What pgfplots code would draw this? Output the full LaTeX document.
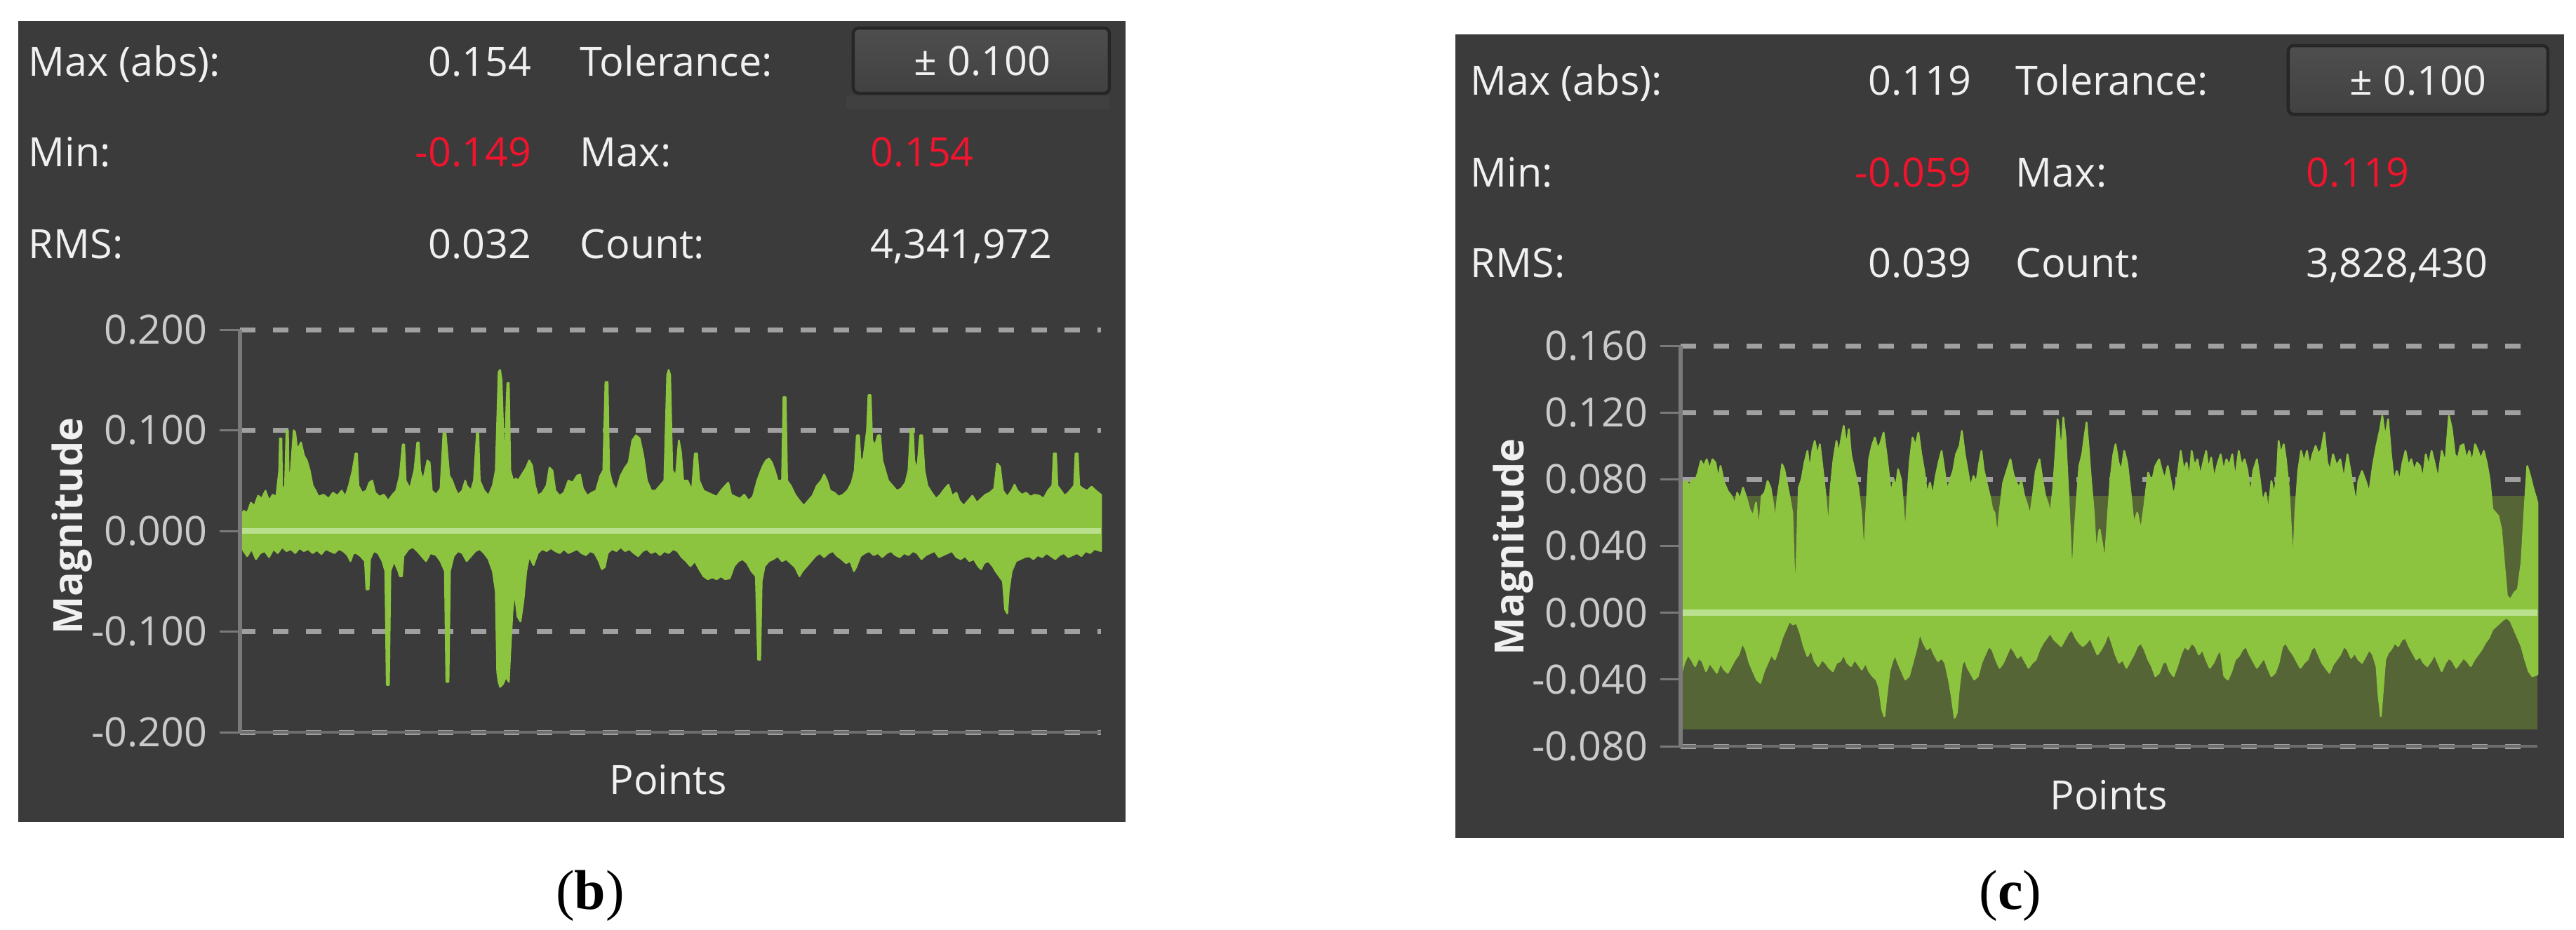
\documentclass[border=0pt]{standalone}
\usepackage{fontspec}
\setmainfont{Open Sans}
\newfontfamily\capfont{Liberation Serif}
\usepackage{pgfplots}
\pgfplotsset{compat=1.18}

\definecolor{panel}{HTML}{3B3B3B}
\definecolor{sig}{HTML}{8DC43F}
\definecolor{zero}{HTML}{B9E08C}
\definecolor{band}{HTML}{566536}
\definecolor{gridc}{HTML}{A0A0A0}
\definecolor{axc}{HTML}{7A7A7A}
\definecolor{lab}{HTML}{CACACA}
\definecolor{txt}{HTML}{F0F0F0}
\definecolor{hot}{HTML}{F0142D}
\definecolor{btntop}{HTML}{4E4E4E}
\definecolor{btnbot}{HTML}{414141}
\definecolor{btnedge}{HTML}{262626}

\newcommand\ui{\fontsize{11.5}{13}\selectfont}

\pgfplotsset{
  sigaxis/.style={
    anchor=south west, scale only axis, clip=false,
    xmin=0, axis line style={draw=none},
    xtick=\empty, ytick pos=left,
    tick align=outside, major tick length=5.8pt,
    tick style={axc, line width=0.6pt},
    ymajorgrids,
    grid style={gridc, line width=1.4pt, dash pattern=on 4.4pt off 5pt},
    yticklabel style={font=\ui, text=lab},
  },
  sigfill/.style={fill=sig, draw=sig, line width=0.5pt, line join=round},
}

\begin{document}
\begin{tikzpicture}
\useasboundingbox (0,0) rectangle (734.2pt,-265.2pt);
\fill[white] (0,0) rectangle (734.2pt,-265.2pt);

\begin{scope}[x=0.2pt,y=-0.2pt]
  % panels
  \fill[panel] (26,30) rectangle (1604,1172);
  \fill[panel] (2074,49) rectangle (3654,1195);

  % left stats
  \fill[btnbot!80!panel] (1206,136) rectangle (1581,155);
  \shadedraw[top color=btntop, bottom color=btnbot, draw=btnedge, line width=0.9pt, rounded corners=1.5pt] (1216,40) rectangle (1581,133);
  \begin{scope}[every node/.style={font=\ui, inner sep=0pt, text=txt}]
    \node[anchor=base west] at (40,108) {Max (abs):};
    \node[anchor=base east] at (758,108) {0.154};
    \node[anchor=base west] at (826,108) {Tolerance:};
    \node[anchor=base] at (1400,107) {± 0.100};
    \node[anchor=base west] at (40,237) {Min:};
    \node[anchor=base east, text=hot] at (758,237) {-0.149};
    \node[anchor=base west] at (826,237) {Max:};
    \node[anchor=base west, text=hot] at (1240,237) {0.154};
    \node[anchor=base west] at (40,368) {RMS:};
    \node[anchor=base east] at (758,368) {0.032};
    \node[anchor=base west] at (826,368) {Count:};
    \node[anchor=base west] at (1240,368) {4,341,972};
    \node[anchor=base] at (952,1133) {Points};
    \node[rotate=90, font=\ui\bfseries] at (103,750) {Magnitude};

    % right stats
    \shadedraw[top color=btntop, bottom color=btnbot, draw=btnedge, line width=0.9pt, rounded corners=1.5pt] (3261,65) rectangle (3631,163);
    \node[anchor=base west] at (2095,135) {Max (abs):};
    \node[anchor=base east] at (2810,135) {0.119};
    \node[anchor=base west] at (2872,135) {Tolerance:};
    \node[anchor=base] at (3446,135) {± 0.100};
    \node[anchor=base west] at (2095,266) {Min:};
    \node[anchor=base east, text=hot] at (2810,266) {-0.059};
    \node[anchor=base west] at (2872,266) {Max:};
    \node[anchor=base west, text=hot] at (3286,266) {0.119};
    \node[anchor=base west] at (2095,395) {RMS:};
    \node[anchor=base east] at (2810,395) {0.039};
    \node[anchor=base west] at (2872,395) {Count:};
    \node[anchor=base west] at (3286,395) {3,828,430};
    \node[anchor=base] at (3005,1155) {Points};
    \node[rotate=90, font=\ui\bfseries] at (2157,780) {Magnitude};
  \end{scope}

  % captions
  \node[anchor=base, inner sep=0pt, font=\capfont\fontsize{16}{18}\selectfont] at (841,1297) {(\textbf{b})};
  \node[anchor=base, inner sep=0pt, font=\capfont\fontsize{16}{18}\selectfont] at (2865,1297) {(\textbf{c})};
\end{scope}

% left chart (b)
\begin{axis}[sigaxis, at={(68.4pt,-208.8pt)}, width=245.4pt, height=114.8pt,
  xmax=1185, ymin=-0.2, ymax=0.2,
  ytick={-0.2,-0.1,0,0.1,0.2},
  yticklabels={-0.200,-0.100,0.000,0.100,0.200}]
\addplot[sigfill] coordinates {
(0,0.012)(5,0.020)(10,0.018)(15,0.028)(20,0.025)(25,0.035)(30,0.032)(35,0.040)(40,0.030)(45,0.036)
(50,0.034)(54,0.060)(55,0.092)(57,0.092)(58,0.040)(62,0.045)(64,0.100)(66,0.100)(67,0.050)(70,0.060)
(74,0.100)(76,0.098)(78,0.085)(80,0.082)(84,0.088)(88,0.075)(92,0.070)(96,0.060)(100,0.045)(104,0.040)
(108,0.034)(115,0.036)(122,0.032)(128,0.038)(134,0.035)(140,0.040)(145,0.034)(150,0.045)(155,0.060)(159,0.077)
(161,0.077)(163,0.045)(168,0.038)(174,0.040)(178,0.048)(182,0.050)(186,0.038)(192,0.034)(198,0.036)(204,0.030)
(210,0.036)(215,0.040)(220,0.055)(224,0.086)(226,0.086)(228,0.050)(234,0.042)(240,0.060)(244,0.088)(246,0.088)
(248,0.060)(252,0.050)(258,0.070)(261,0.068)(264,0.040)(270,0.036)(276,0.042)(280,0.097)(283,0.097)(285,0.080)
(288,0.055)(292,0.050)(296,0.042)(300,0.036)(306,0.040)(310,0.050)(312,0.045)(318,0.040)(322,0.050)(326,0.097)
(328,0.097)(330,0.050)(336,0.040)(342,0.035)(348,0.045)(352,0.060)(356,0.158)(358,0.160)(360,0.150)(364,0.060)
(367,0.130)(368,0.147)(370,0.147)(372,0.060)(376,0.050)(380,0.052)(383,0.050)(388,0.056)(394,0.063)(398,0.070)
(402,0.065)(406,0.045)(410,0.035)(416,0.038)(422,0.045)(426,0.063)(430,0.060)(434,0.040)(440,0.035)(446,0.038)
(452,0.050)(458,0.048)(464,0.055)(468,0.056)(472,0.042)(478,0.035)(484,0.038)(490,0.040)(496,0.055)(500,0.060)
(503,0.148)(506,0.148)(508,0.060)(512,0.048)(518,0.040)(524,0.055)(530,0.063)(535,0.068)(540,0.090)(545,0.095)
(550,0.092)(555,0.075)(560,0.050)(566,0.040)(572,0.040)(578,0.045)(584,0.050)(588,0.155)(590,0.160)(592,0.155)
(595,0.060)(600,0.055)(604,0.090)(607,0.078)(610,0.050)(616,0.050)(622,0.040)(626,0.077)(629,0.077)(632,0.050)
(638,0.040)(644,0.038)(650,0.036)(656,0.034)(662,0.040)(668,0.045)(672,0.048)(676,0.036)(682,0.034)(688,0.032)
(694,0.036)(700,0.030)(706,0.034)(712,0.050)(716,0.058)(720,0.065)(724,0.070)(728,0.072)(732,0.068)(736,0.060)
(740,0.050)(746,0.050)(748,0.133)(751,0.133)(753,0.050)(758,0.045)(764,0.036)(770,0.030)(776,0.025)(782,0.030)
(788,0.035)(794,0.045)(800,0.050)(804,0.056)(808,0.050)(812,0.040)(818,0.038)(824,0.034)(830,0.036)(836,0.040)
(842,0.048)(846,0.060)(849,0.095)(852,0.095)(854,0.070)(858,0.072)(863,0.100)(865,0.135)(868,0.135)(870,0.090)
(874,0.085)(878,0.095)(881,0.095)(884,0.070)(888,0.060)(892,0.050)(898,0.045)(904,0.040)(910,0.042)(916,0.048)
(920,0.060)(923,0.100)(926,0.102)(928,0.070)(932,0.060)(936,0.095)(939,0.095)(942,0.060)(946,0.045)(952,0.038)
(958,0.032)(964,0.036)(970,0.042)(975,0.046)(980,0.035)(986,0.038)(990,0.030)(996,0.025)(1002,0.030)(1008,0.035)
(1014,0.028)(1020,0.032)(1026,0.036)(1032,0.038)(1038,0.042)(1042,0.067)(1046,0.064)(1050,0.040)(1056,0.034)(1062,0.040)
(1066,0.046)(1070,0.040)(1076,0.036)(1082,0.038)(1088,0.034)(1094,0.036)(1100,0.035)(1106,0.032)(1112,0.040)(1118,0.045)
(1120,0.077)(1123,0.077)(1125,0.045)(1130,0.040)(1135,0.035)(1140,0.038)(1148,0.045)(1150,0.077)(1153,0.077)(1155,0.045)
(1160,0.042)(1166,0.040)(1172,0.044)(1178,0.040)(1185,0.036)
} \closedcycle;
\addplot[sigfill] coordinates {
(0,-0.012)(5,-0.020)(10,-0.025)(16,-0.018)(22,-0.028)(28,-0.022)(34,-0.020)(40,-0.026)(46,-0.018)(52,-0.022)
(58,-0.016)(64,-0.020)(70,-0.018)(76,-0.022)(82,-0.017)(88,-0.020)(94,-0.018)(100,-0.022)(106,-0.019)(112,-0.023)
(118,-0.018)(124,-0.020)(130,-0.022)(136,-0.018)(142,-0.020)(148,-0.024)(152,-0.030)(156,-0.022)(160,-0.022)(166,-0.025)
(172,-0.030)(174,-0.058)(177,-0.058)(179,-0.028)(184,-0.020)(190,-0.022)(196,-0.030)(200,-0.040)(202,-0.153)(205,-0.153)
(207,-0.040)(212,-0.030)(218,-0.040)(220,-0.045)(223,-0.045)(225,-0.025)(232,-0.018)(238,-0.016)(244,-0.020)(250,-0.025)
(256,-0.030)(262,-0.022)(270,-0.024)(276,-0.030)(282,-0.040)(284,-0.150)(287,-0.150)(289,-0.040)(294,-0.025)(300,-0.020)
(306,-0.022)(312,-0.030)(318,-0.025)(324,-0.020)(330,-0.018)(336,-0.022)(342,-0.028)(348,-0.040)(352,-0.060)(354,-0.140)
(356,-0.150)(358,-0.155)(362,-0.152)(366,-0.145)(370,-0.150)(372,-0.120)(375,-0.080)(378,-0.060)(382,-0.085)(386,-0.090)
(390,-0.070)(394,-0.040)(398,-0.025)(404,-0.034)(410,-0.022)(416,-0.018)(422,-0.020)(428,-0.017)(434,-0.020)(440,-0.022)
(446,-0.018)(452,-0.022)(458,-0.020)(464,-0.018)(470,-0.022)(476,-0.024)(482,-0.020)(488,-0.022)(494,-0.030)(498,-0.038)
(502,-0.036)(506,-0.022)(512,-0.018)(518,-0.020)(524,-0.016)(530,-0.020)(536,-0.018)(542,-0.022)(548,-0.025)(554,-0.020)
(560,-0.018)(566,-0.022)(572,-0.020)(578,-0.024)(584,-0.020)(590,-0.022)(596,-0.018)(602,-0.020)(608,-0.026)(614,-0.030)
(620,-0.035)(626,-0.030)(632,-0.038)(638,-0.045)(644,-0.048)(650,-0.046)(656,-0.048)(662,-0.045)(668,-0.048)(674,-0.047)
(680,-0.035)(686,-0.030)(692,-0.028)(698,-0.032)(704,-0.040)(710,-0.045)(713,-0.128)(716,-0.128)(718,-0.050)(722,-0.035)
(728,-0.030)(734,-0.028)(740,-0.025)(746,-0.030)(752,-0.028)(758,-0.032)(764,-0.036)(770,-0.045)(774,-0.040)(780,-0.035)
(786,-0.030)(792,-0.025)(798,-0.022)(804,-0.026)(810,-0.022)(816,-0.020)(822,-0.025)(828,-0.028)(834,-0.032)(840,-0.030)
(845,-0.040)(848,-0.036)(854,-0.025)(860,-0.022)(866,-0.020)(872,-0.024)(878,-0.022)(884,-0.026)(890,-0.022)(896,-0.020)
(902,-0.024)(908,-0.026)(914,-0.022)(920,-0.024)(926,-0.020)(932,-0.022)(938,-0.028)(944,-0.024)(950,-0.022)(956,-0.020)
(962,-0.026)(968,-0.024)(974,-0.022)(980,-0.020)(986,-0.026)(992,-0.028)(998,-0.025)(1004,-0.030)(1010,-0.028)(1016,-0.035)
(1020,-0.038)(1024,-0.032)(1030,-0.030)(1036,-0.035)(1040,-0.040)(1050,-0.050)(1053,-0.078)(1056,-0.082)(1058,-0.060)(1062,-0.040)
(1068,-0.030)(1074,-0.028)(1080,-0.026)(1086,-0.025)(1092,-0.028)(1098,-0.024)(1104,-0.026)(1110,-0.022)(1116,-0.025)(1122,-0.028)
(1128,-0.024)(1134,-0.022)(1140,-0.026)(1146,-0.024)(1152,-0.022)(1158,-0.025)(1164,-0.020)(1170,-0.022)(1176,-0.018)(1185,-0.020)
} \closedcycle;
\addplot[zero, line width=1.7pt] coordinates {(0,0) (1185,0)};
\addplot[axc!80!panel, line width=0.8pt] coordinates {(0,-0.2) (1185,-0.2)};
\addplot[axc, line width=1.1pt] coordinates {(0,-0.2) (0,0.2)};
\end{axis}

% right chart (c)
\begin{axis}[sigaxis, at={(479pt,-212.8pt)}, width=244.2pt, height=114.2pt,
  xmax=1182, ymin=-0.08, ymax=0.16,
  ytick={-0.08,-0.04,0,0.04,0.08,0.12,0.16},
  yticklabels={-0.080,-0.040,0.000,0.040,0.080,0.120,0.160}]
\addplot[fill=band, draw=none] coordinates {(0,0.07) (1182,0.07)} \closedcycle;
\addplot[fill=band, draw=none] coordinates {(0,-0.07) (1182,-0.07)} \closedcycle;
\addplot[sigfill] coordinates {
(0,0.070)(4,0.078)(8,0.079)(12,0.076)(16,0.080)(20,0.079)(24,0.084)(28,0.091)(32,0.088)(36,0.092)
(40,0.086)(44,0.092)(48,0.090)(52,0.080)(55,0.088)(60,0.078)(65,0.073)(70,0.070)(75,0.065)(78,0.072)
(82,0.068)(86,0.075)(90,0.070)(95,0.062)(100,0.058)(104,0.066)(108,0.049)(112,0.070)(116,0.072)(120,0.079)
(124,0.075)(128,0.064)(130,0.053)(134,0.070)(138,0.082)(140,0.089)(143,0.086)(146,0.079)(150,0.070)(154,0.060)
(157,0.020)(158,0.008)(160,0.030)(163,0.075)(167,0.080)(171,0.090)(175,0.097)(178,0.085)(182,0.098)(185,0.103)
(189,0.094)(192,0.101)(195,0.090)(200,0.070)(204,0.049)(207,0.075)(211,0.092)(215,0.103)(218,0.095)(222,0.105)
(225,0.112)(229,0.100)(232,0.110)(235,0.095)(240,0.085)(245,0.075)(249,0.060)(253,0.032)(256,0.060)(260,0.092)
(264,0.100)(268,0.105)(272,0.098)(276,0.102)(280,0.108)(284,0.095)(288,0.080)(290,0.071)(294,0.080)(297,0.075)
(300,0.086)(304,0.080)(307,0.064)(310,0.045)(313,0.070)(316,0.090)(320,0.105)(324,0.100)(328,0.108)(332,0.095)
(336,0.085)(340,0.071)(344,0.078)(348,0.070)(352,0.082)(356,0.090)(360,0.097)(364,0.085)(368,0.073)(372,0.080)
(376,0.085)(380,0.095)(385,0.100)(388,0.109)(392,0.095)(396,0.085)(400,0.075)(404,0.082)(408,0.078)(412,0.090)
(415,0.097)(418,0.086)(422,0.078)(426,0.071)(430,0.062)(433,0.060)(437,0.045)(440,0.060)(445,0.078)(450,0.085)
(455,0.092)(459,0.083)(463,0.078)(467,0.075)(470,0.079)(474,0.070)(478,0.065)(482,0.058)(486,0.070)(490,0.085)
(495,0.092)(499,0.080)(503,0.070)(507,0.065)(510,0.058)(514,0.075)(518,0.100)(520,0.116)(522,0.110)(525,0.095)
(528,0.117)(531,0.105)(535,0.070)(538,0.040)(540,0.019)(543,0.045)(547,0.070)(550,0.088)(554,0.095)(557,0.105)
(560,0.114)(563,0.098)(566,0.080)(570,0.060)(573,0.036)(578,0.050)(582,0.040)(585,0.029)(589,0.055)(593,0.080)
(597,0.095)(600,0.101)(604,0.090)(608,0.085)(612,0.097)(616,0.090)(620,0.075)(625,0.053)(630,0.060)(635,0.049)
(640,0.065)(645,0.084)(650,0.078)(655,0.088)(660,0.092)(664,0.085)(668,0.080)(672,0.088)(676,0.079)(680,0.070)
(685,0.080)(690,0.097)(694,0.085)(698,0.090)(702,0.080)(705,0.097)(709,0.088)(713,0.092)(717,0.082)(721,0.090)
(725,0.097)(728,0.086)(732,0.093)(736,0.080)(740,0.088)(745,0.095)(749,0.085)(753,0.092)(757,0.088)(761,0.095)
(765,0.080)(770,0.097)(774,0.088)(778,0.092)(782,0.085)(786,0.070)(790,0.085)(795,0.092)(799,0.080)(803,0.066)
(807,0.072)(811,0.060)(815,0.079)(819,0.070)(823,0.085)(825,0.103)(828,0.095)(832,0.101)(835,0.092)(839,0.075)
(842,0.050)(845,0.027)(848,0.060)(852,0.085)(856,0.097)(860,0.090)(864,0.097)(868,0.088)(872,0.095)(876,0.100)
(880,0.095)(884,0.098)(888,0.108)(892,0.090)(896,0.085)(900,0.095)(905,0.088)(910,0.092)(915,0.080)(920,0.095)
(924,0.085)(928,0.075)(932,0.065)(935,0.079)(940,0.085)(945,0.079)(950,0.072)(955,0.088)(960,0.100)(965,0.110)
(968,0.118)(972,0.105)(976,0.116)(980,0.095)(984,0.079)(988,0.085)(992,0.079)(996,0.090)(1000,0.097)(1004,0.088)
(1008,0.092)(1012,0.085)(1016,0.090)(1020,0.088)(1024,0.080)(1028,0.095)(1032,0.088)(1036,0.097)(1040,0.090)(1045,0.080)
(1050,0.097)(1055,0.090)(1060,0.118)(1064,0.110)(1068,0.095)(1072,0.092)(1076,0.100)(1080,0.101)(1084,0.092)(1088,0.097)
(1092,0.090)(1096,0.101)(1100,0.097)(1104,0.092)(1108,0.097)(1112,0.090)(1116,0.080)(1120,0.062)(1124,0.060)(1128,0.058)
(1132,0.050)(1136,0.030)(1140,0.010)(1145,0.008)(1150,0.012)(1155,0.014)(1160,0.030)(1164,0.060)(1168,0.088)(1172,0.082)
(1176,0.075)(1182,0.066)
} \closedcycle;
\addplot[sigfill] coordinates {
(0,-0.038)(5,-0.030)(10,-0.025)(15,-0.028)(20,-0.032)(25,-0.027)(30,-0.029)(35,-0.035)(40,-0.030)(45,-0.033)
(50,-0.036)(55,-0.030)(60,-0.034)(65,-0.036)(70,-0.032)(75,-0.028)(80,-0.025)(85,-0.018)(90,-0.022)(95,-0.030)
(100,-0.035)(105,-0.040)(110,-0.042)(115,-0.035)(120,-0.030)(125,-0.025)(130,-0.028)(135,-0.022)(140,-0.015)(145,-0.010)
(150,-0.005)(155,-0.007)(160,-0.006)(165,-0.012)(170,-0.020)(175,-0.026)(180,-0.022)(185,-0.029)(190,-0.032)(195,-0.028)
(200,-0.030)(205,-0.033)(210,-0.035)(215,-0.030)(220,-0.029)(225,-0.025)(230,-0.030)(235,-0.032)(240,-0.028)(245,-0.031)
(250,-0.034)(255,-0.030)(260,-0.035)(265,-0.038)(270,-0.040)(274,-0.045)(278,-0.058)(281,-0.062)(284,-0.050)(288,-0.035)
(292,-0.029)(296,-0.025)(300,-0.030)(305,-0.035)(310,-0.040)(315,-0.038)(320,-0.030)(325,-0.022)(330,-0.012)(335,-0.018)
(340,-0.022)(345,-0.020)(350,-0.025)(355,-0.029)(360,-0.027)(365,-0.030)(370,-0.040)(374,-0.050)(378,-0.063)(381,-0.060)
(384,-0.045)(388,-0.031)(392,-0.028)(396,-0.033)(400,-0.036)(405,-0.040)(410,-0.038)(415,-0.030)(420,-0.025)(425,-0.020)
(430,-0.022)(435,-0.028)(440,-0.033)(445,-0.030)(450,-0.025)(455,-0.020)(460,-0.023)(465,-0.027)(470,-0.025)(475,-0.029)
(480,-0.033)(485,-0.030)(490,-0.028)(495,-0.022)(500,-0.018)(505,-0.015)(510,-0.012)(515,-0.016)(520,-0.018)(525,-0.020)
(530,-0.016)(535,-0.012)(540,-0.010)(545,-0.015)(550,-0.018)(555,-0.020)(560,-0.018)(565,-0.015)(570,-0.020)(575,-0.025)
(580,-0.022)(585,-0.018)(590,-0.012)(595,-0.018)(600,-0.025)(605,-0.030)(610,-0.028)(615,-0.033)(620,-0.029)(625,-0.025)
(630,-0.020)(635,-0.018)(640,-0.022)(645,-0.028)(650,-0.032)(655,-0.038)(660,-0.036)(665,-0.030)(670,-0.029)(675,-0.035)
(680,-0.038)(685,-0.032)(690,-0.025)(695,-0.020)(700,-0.022)(705,-0.018)(710,-0.020)(715,-0.025)(720,-0.022)(725,-0.028)
(730,-0.033)(735,-0.030)(740,-0.025)(745,-0.022)(750,-0.038)(755,-0.040)(760,-0.035)(765,-0.028)(770,-0.026)(775,-0.022)
(780,-0.020)(785,-0.025)(790,-0.029)(795,-0.033)(800,-0.030)(805,-0.027)(810,-0.033)(815,-0.038)(820,-0.036)(825,-0.030)
(830,-0.020)(835,-0.018)(840,-0.022)(845,-0.025)(850,-0.029)(855,-0.033)(860,-0.030)(865,-0.028)(870,-0.022)(875,-0.020)
(880,-0.025)(885,-0.030)(890,-0.033)(895,-0.036)(900,-0.031)(905,-0.028)(910,-0.025)(915,-0.020)(920,-0.022)(925,-0.027)
(930,-0.024)(935,-0.028)(940,-0.030)(945,-0.026)(950,-0.022)(955,-0.025)(960,-0.032)(963,-0.050)(966,-0.062)(969,-0.045)
(972,-0.028)(976,-0.024)(980,-0.022)(985,-0.018)(990,-0.020)(995,-0.016)(1000,-0.015)(1005,-0.020)(1010,-0.024)(1015,-0.028)
(1020,-0.026)(1025,-0.030)(1030,-0.032)(1035,-0.029)(1040,-0.025)(1045,-0.030)(1050,-0.035)(1055,-0.030)(1060,-0.027)(1065,-0.029)
(1070,-0.033)(1075,-0.030)(1080,-0.027)(1085,-0.029)(1090,-0.032)(1095,-0.028)(1100,-0.025)(1105,-0.022)(1110,-0.018)(1115,-0.015)
(1120,-0.010)(1125,-0.008)(1130,-0.006)(1135,-0.004)(1140,-0.003)(1145,-0.005)(1150,-0.010)(1155,-0.015)(1160,-0.020)(1165,-0.028)
(1170,-0.035)(1175,-0.038)(1182,-0.037)
} \closedcycle;
\addplot[zero, line width=1.7pt] coordinates {(0,0) (1182,0)};
\addplot[axc!80!panel, line width=0.8pt] coordinates {(0,-0.08) (1182,-0.08)};
\addplot[axc, line width=1.1pt] coordinates {(0,-0.08) (0,0.16)};
\end{axis}
\end{tikzpicture}
\end{document}
